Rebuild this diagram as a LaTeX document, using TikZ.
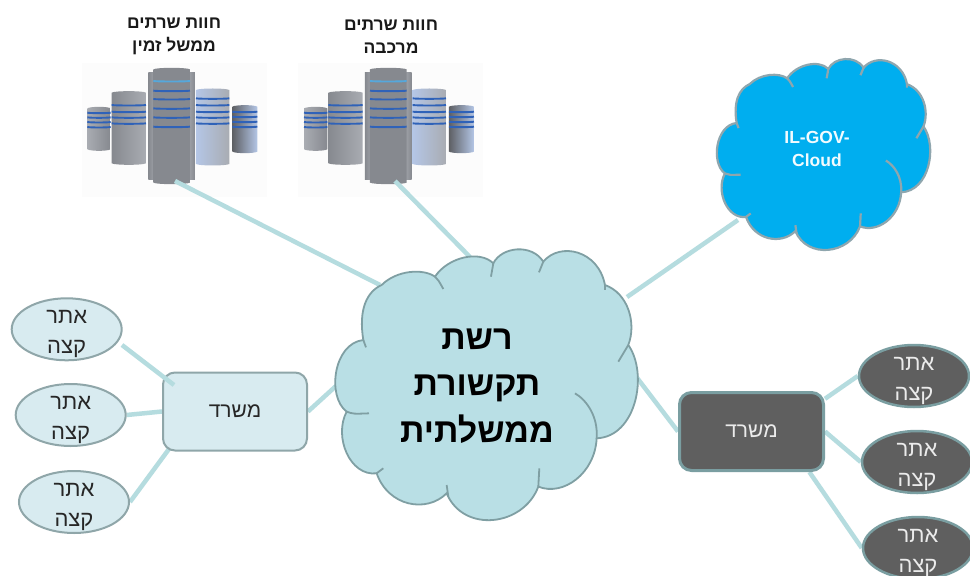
\documentclass[tikz,border=0pt]{standalone}
\usepackage{fontspec}
\setmainfont{Liberation Sans}
\newfontfamily\hebfont[Script=Hebrew]{Liberation Sans}
\TeXXeTstate=1
\usetikzlibrary{shapes.geometric,backgrounds}
\newcommand\hb[1]{{\hebfont\beginR #1\endR}}
\definecolor{linkc}{HTML}{B5DCDF}
\definecolor{netfill}{HTML}{B9DFE5}
\definecolor{netline}{HTML}{7F9FA3}
\definecolor{govfill}{HTML}{00AEEF}
\definecolor{govline}{HTML}{8FA6AE}
\definecolor{lightfill}{HTML}{D8EBF0}
\definecolor{lightline}{HTML}{8FA6A9}
\definecolor{darkfill}{HTML}{5F5F5F}
\definecolor{darkline}{HTML}{7A9EA1}
\definecolor{stripeA}{HTML}{2F62B8}
\definecolor{stripeB}{HTML}{55A8DC}
\definecolor{steelD}{HTML}{86898F}
\definecolor{steelM}{HTML}{A9ACB2}
\definecolor{steelL}{HTML}{E4E7EC}
\definecolor{steelC}{HTML}{C6C8CC}
\definecolor{steelB}{HTML}{B4C6E6}
\tikzset{
  link/.style={draw=linkc,line width=4.5pt},
  farmlabel/.style={align=center,font=\fontsize{17.5}{23}\selectfont\bfseries,text=black!90},
  site/.style={ellipse,draw=lightline,fill=lightfill,line width=2pt,minimum width=110pt,minimum height=62pt,inner sep=0pt},
  sitedark/.style={site,draw=darkline,fill=darkfill,line width=2.5pt},
  sitetext/.style={align=center,font=\fontsize{22}{30}\selectfont,text=black!85,yshift=-5pt},
  sitetextdark/.style={sitetext,text=white!92!black},
  office/.style={rectangle,rounded corners=12pt,draw=lightline,fill=lightfill,line width=2pt,minimum width=144pt,minimum height=78pt,inner sep=0pt,font=\fontsize{21}{25}\selectfont,text=black!85},
  officedark/.style={office,draw=darkline,fill=darkfill,line width=3pt,text=white!92!black},
  stripe/.style={line width=1.9pt}
}
\newcommand\cloudoutline{
  (130,330) .. controls (115,240) and (140,185) .. (185,165)
  .. controls (230,120) and (310,115) .. (345,140)
  .. controls (385,80) and (480,60) .. (520,100)
  .. controls (545,50) and (635,40) .. (670,95)
  .. controls (720,35) and (835,60) .. (855,165)
  .. controls (925,190) and (950,280) .. (925,345)
  .. controls (985,430) and (950,620) .. (830,625)
  .. controls (825,730) and (730,800) .. (655,770)
  .. controls (610,890) and (430,910) .. (380,790)
  .. controls (320,850) and (205,830) .. (170,730)
  .. controls (90,740) and (40,620) .. (80,545)
  .. controls (20,500) and (40,340) .. (130,330) -- cycle}
\newcommand\cloudcurls{
  (130,330) -- (138,352)
  (80,545) .. controls (100,552) .. (147,550)
  (170,730) -- (190,715)
  (380,765) -- (385,800)
  (655,770) -- (658,715)
  (830,625) .. controls (835,560) and (800,510) .. (765,490)
  (925,345) -- (895,395)
  (855,165) -- (855,180)
  (670,95) -- (657,127)
  (520,100) -- (513,140)
  (345,140) .. controls (355,150) .. (370,177)}
% x0 x1 ytop ybot stripes leftcolor midcolor rightcolor
\newcommand\srvcol[8]{
  \path[left color=#6,middle color=#7,right color=#8]
    (#1,#3) .. controls +(10,-6) and +(-10,-6) .. (#2,#3) -- (#2,#4)
    .. controls +(-10,6) and +(10,6) .. (#1,#4) -- cycle;
  \foreach \s in {#5}
    \draw[stripe,stripeA] (#1,\s) .. controls +(10,2) and +(-10,2) .. (#2,\s);
}
\newcommand\farm{
  \fill[black!1] (35,190) rectangle (590,590);
  \srvcol{52}{122}{325}{448}{338,352,366,381}{steelM}{steelL}{steelD}
  \srvcol{125}{228}{278}{490}{315,335,352,370}{steelD}{steelL}{steelM}
  \srvcol{487}{562}{320}{455}{335,350,365,380}{steelD!70!black}{steelL}{steelB}
  \srvcol{378}{478}{270}{492}{295,315,335,352,370}{steelB}{steelL}{steelM}
  \path[left color=steelD,right color=steelD,middle color=steelL]
    (235,218) -- (375,218) -- (375,540) -- (235,540) -- cycle;
  \srvcol{250}{360}{208}{548}{272,297,325,352,380}{steelD}{steelC}{steelD}
  \draw[stripe,stripeB] (250,243) .. controls +(10,2) and +(-10,2) .. (360,243);
}
\begin{document}
\begin{tikzpicture}[x=1pt,y=-1pt]
\clip (0,0) rectangle (970,576);
% nodes
\node[farmlabel] (labA) at (174,36.5) {\hb{חוות שרתים}\\\hb{ממשל זמין}};
\node[farmlabel] (labB) at (391,36.5) {\hb{חוות שרתים}\\\hb{מרכבה}};
\coordinate (farmA) at (175,181);
\coordinate (farmB) at (395,181);
\coordinate (netA) at (380,285);
\coordinate (netB) at (470,257);
\coordinate (netC) at (627,297);
\coordinate (netD) at (336,386);
\coordinate (netE) at (625,362);
\coordinate (govEnd) at (738,220);
\coordinate (linkIn) at (174,385);
\coordinate (siteOne) at (122,345);
\coordinate (offLin) at (180,434);

\begin{scope}[shift={(320,230)},x=0.3333pt,y=-0.3333pt]
  \path[fill=netfill] \cloudoutline;
  \draw[netline,line width=1.8pt] \cloudoutline;
  \draw[netline,line width=1.8pt] \cloudcurls;
\end{scope}
\node[align=center,font=\fontsize{34}{46.6}\selectfont\bfseries] (net) at (477,386)
  {\hb{רשת}\\\hb{תקשורת}\\\hb{ממשלתית}};

\begin{scope}[shift={(706.1,45.4)},x=0.235pt,y=-0.235pt]
  \path[fill=govfill] \cloudoutline;
  \draw[govline,line width=2.2pt] \cloudoutline;
  \draw[govline,line width=2.2pt] \cloudcurls;
\end{scope}
\node[align=center,font=\fontsize{17.5}{23}\selectfont\bfseries,text=white!95!govfill] (gov) at (817,149) {IL-GOV-\\Cloud};

\node[office] (offL) at (235,411.5) {\hb{משרד}};
\node[officedark] (offR) at (751.5,431.5) {\hb{משרד}};

\node[site,label={[sitetext]center:{\hb{אתר}\\\hb{קצה}}}] (s1) at (66.7,329.3) {};
\node[site,label={[sitetext]center:{\hb{אתר}\\\hb{קצה}}}] (s2) at (70.7,415) {};
\node[site,label={[sitetext]center:{\hb{אתר}\\\hb{קצה}}}] (s3) at (74,502) {};
\node[sitedark,label={[sitetextdark]center:{\hb{אתר}\\\hb{קצה}}}] (r1) at (914,376) {};
\node[sitedark,label={[sitetextdark]center:{\hb{אתר}\\\hb{קצה}}}] (r2) at (917,462) {};
\node[sitedark,label={[sitetextdark]center:{\hb{אתר}\\\hb{קצה}}}] (r3) at (918,548) {};

% connector that runs over the office box
\draw[link] (siteOne) -- (linkIn);

\begin{scope}[on background layer]
  \fill[white] (0,0) rectangle (970,576);
  \begin{scope}[shift={(70,0)},x=0.3333pt,y=-0.3333pt]\farm\end{scope}
  \begin{scope}[shift={(286.67,0)},x=0.3333pt,y=-0.3333pt]\farm\end{scope}
  \draw[link] (farmA) -- (netA);
  \draw[link] (farmB) -- (netB);
  \draw[link] (govEnd) -- (netC);
  \draw[link] (offL.east) -- (netD);
  \draw[link] (netE) -- (offR.west);
  \draw[link] (s2.east) -- (offL.west);
  \draw[link] (s3.east) -- (offLin);
  \draw[link] (offR.24) -- (r1.west);
  \draw[link] (offR.east) -- (r2.west);
  \draw[link] (offR.-35) -- (r3.west);
\end{scope}
\end{tikzpicture}
\end{document}
